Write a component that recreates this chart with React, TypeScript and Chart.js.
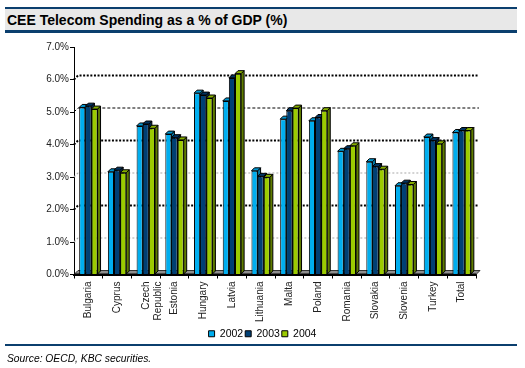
import React, { useEffect, useRef } from "react";
import { Chart, registerables } from "chart.js";

Chart.register(...registerables);

const categories: (string | string[])[] = [
  "Bulgaria", "Cyprus", ["Czech", "Republic"], "Estonia", "Hungary", "Latvia", "Lithuania",
  "Malta", "Poland", "Romania", "Slovakia", "Slovenia", "Turkey", "Total",
];
const seriesNames = ["2002", "2003", "2004"];
const v2002 = [5.14, 3.16, 4.57, 4.32, 5.58, 5.34, 3.19, 4.78, 4.73, 3.79, 3.47, 2.73, 4.23, 4.37];
const v2003 = [5.18, 3.21, 4.63, 4.21, 5.52, 6.05, 3.02, 5.04, 4.83, 3.87, 3.32, 2.81, 4.12, 4.43];
const v2004 = [5.09, 3.13, 4.5, 4.14, 5.43, 6.18, 2.99, 5.12, 5.04, 3.96, 3.24, 2.77, 4.02, 4.43];
const yTicks = [0, 1, 2, 3, 4, 5, 6, 7];

const frontColors = ["#00AEEF", "#003F74", "#9CCB00"];
const sideColors = ["#0079A8", "#00254A", "#5F7C00"];
const capColors = ["#0096D0", "#003360", "#86AE00"];

const FONT = 'Arial, "Liberation Sans", sans-serif';
const D = 3;

const bar3d = {
  id: "bar3d",
  beforeDatasetsDraw(chart: any) {
    const { ctx, chartArea } = chart;
    const ys = chart.scales.y;
    const L = chartArea.left;
    const R = chartArea.right;
    const B = ys.getPixelForValue(0);
    ctx.save();
    yTicks.forEach((v) => {
      if (v === 0 || v === 7) return;
      const py = ys.getPixelForValue(v);
      ctx.beginPath();
      if (v % 2 === 0) {
        ctx.strokeStyle = "#000";
        ctx.lineWidth = 2;
        ctx.setLineDash([2, 1.6]);
      } else if (v === 5) {
        ctx.strokeStyle = "#000";
        ctx.lineWidth = 1;
        ctx.setLineDash([3, 2]);
      } else {
        ctx.strokeStyle = "#a8a8a8";
        ctx.lineWidth = 1.2;
        ctx.setLineDash([2, 2]);
      }
      ctx.moveTo(L, py);
      ctx.lineTo(L + D + 1, py - D - 1);
      ctx.lineTo(R + D, py - D - 1);
      ctx.stroke();
    });
    ctx.setLineDash([]);
    ctx.beginPath();
    ctx.moveTo(L, B);
    ctx.lineTo(L + D + 1, B - D - 1);
    ctx.lineTo(R + D + 1, B - D - 1);
    ctx.lineTo(R, B);
    ctx.closePath();
    ctx.fillStyle = "#8e8e8e";
    ctx.fill();
    ctx.strokeStyle = "#333";
    ctx.lineWidth = 1;
    ctx.stroke();
    ctx.beginPath();
    ctx.moveTo(L, B);
    ctx.lineTo(R, B);
    ctx.strokeStyle = "#000";
    ctx.lineWidth = 2;
    ctx.stroke();
    chart.data.datasets.forEach((_ds: any, i: number) => {
      const meta = chart.getDatasetMeta(i);
      meta.data.forEach((el: any) => {
        const p = el.getProps(["x", "y", "base", "width"], true);
        const l = p.x - p.width / 2;
        const r = p.x + p.width / 2;
        const t = p.y;
        const b = p.base;
        ctx.lineWidth = 1;
        ctx.strokeStyle = "#000";
        ctx.beginPath();
        ctx.moveTo(r, t);
        ctx.lineTo(r + D, t - D);
        ctx.lineTo(r + D, b - D);
        ctx.lineTo(r, b);
        ctx.closePath();
        ctx.fillStyle = sideColors[i];
        ctx.fill();
        ctx.stroke();
        ctx.beginPath();
        ctx.moveTo(l, t);
        ctx.lineTo(l + D, t - D);
        ctx.lineTo(r + D, t - D);
        ctx.lineTo(r, t);
        ctx.closePath();
        ctx.fillStyle = capColors[i];
        ctx.fill();
        ctx.stroke();
      });
    });
    ctx.restore();
  },
};

export default function App() {
  const ref = useRef<HTMLCanvasElement | null>(null);
  useEffect(() => {
    if (!ref.current) return;
    const data = [v2002, v2003, v2004];
    const chart = new Chart(ref.current, {
      type: "bar",
      data: {
        labels: categories as any,
        datasets: seriesNames.map((n, i) => ({
          label: n,
          data: data[i],
          backgroundColor: frontColors[i],
          borderColor: "#000",
          borderWidth: 1,
          categoryPercentage: 0.64,
          barPercentage: 1.0,
        })),
      },
      options: {
        responsive: false,
        animation: false,
        devicePixelRatio: 1,
        layout: { padding: { top: 47, right: 0, bottom: 19, left: 0 } },
        plugins: {
          title: { display: false },
          tooltip: { enabled: false },
          legend: {
            position: "bottom",
            labels: {
              boxWidth: 6,
              boxHeight: 6,
              padding: 2,
              color: "#000",
              font: { family: FONT, size: 10.5 },
              generateLabels: (c: any) =>
                c.data.datasets.map((ds: any, i: number) => ({
                  text: ds.label,
                  fillStyle: frontColors[i],
                  strokeStyle: "#000",
                  lineWidth: 1,
                  datasetIndex: i,
                  hidden: false,
                })),
            },
          },
        },
        scales: {
          x: {
            grid: { display: true, drawOnChartArea: false, drawTicks: true, tickLength: 4, color: "#000", offset: true },
            border: { display: true, color: "#000", width: 2 },
            ticks: {
              autoSkip: false,
              minRotation: 90,
              maxRotation: 90,
              padding: 3,
              color: "#222",
              font: { family: FONT, size: 10 },
            },
            afterFit: (s: any) => { s.height = 52; },
          },
          y: {
            min: 0,
            max: 7,
            grid: { display: true, drawOnChartArea: false, drawTicks: true, tickLength: 4, color: "#000" },
            border: { display: true, color: "#000", width: 1 },
            ticks: {
              stepSize: 1,
              padding: 1,
              color: "#222",
              font: { family: FONT, size: 10 },
              callback: (v: any) => Number(v).toFixed(1) + "%",
            },
            afterFit: (s: any) => { s.width = 74; },
          },
          yRight: {
            position: "right",
            display: true,
            min: 0,
            max: 7,
            grid: { display: false, drawTicks: false },
            border: { display: false },
            ticks: { display: false },
            afterFit: (s: any) => { s.width = 49; },
          },
        },
      },
      plugins: [bar3d],
    });
    return () => chart.destroy();
  }, []);

  return (
    <div style={{ position: "fixed", left: 0, top: 0, width: 525, height: 368, background: "#fff", fontFamily: FONT }}>
      <canvas ref={ref} width={525} height={368} style={{ position: "absolute", left: 0, top: 0, width: 525, height: 368 }} />
      <div
        style={{
          position: "absolute", left: 5, top: 7, width: 510, height: 21,
          background: "#e8e8e8", borderTop: "2px solid #0b3f6e", borderBottom: "3px solid #0b3f6e",
          fontWeight: "bold", fontSize: 14, lineHeight: "22px", paddingLeft: 2, boxSizing: "content-box",
          color: "#000", whiteSpace: "nowrap",
        }}
      >
        CEE Telecom Spending as a % of GDP (%)
      </div>
      <div style={{ position: "absolute", left: 5, top: 344, width: 512, height: 0, borderTop: "2px solid #0b3f6e" }} />
      <div style={{ position: "absolute", left: 7, top: 353, fontSize: 10.3, fontStyle: "italic", color: "#000", whiteSpace: "nowrap" }}>
        Source: OECD, KBC securities.
      </div>
    </div>
  );
}
